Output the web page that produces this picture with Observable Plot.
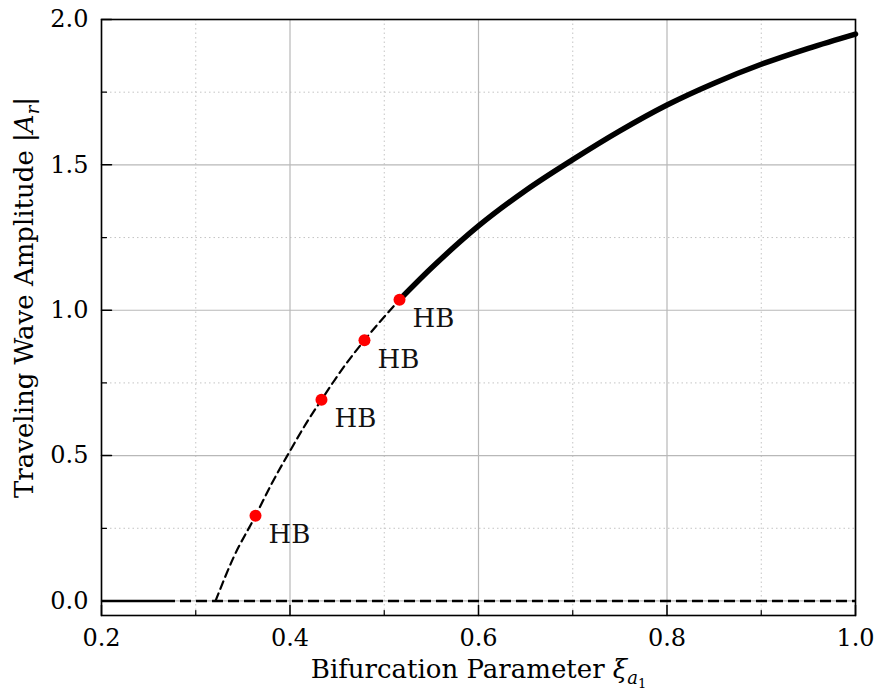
<!DOCTYPE html>
<html><head><meta charset="utf-8">
<script src="https://cdn.jsdelivr.net/npm/d3@7"></script>
<script src="https://cdn.jsdelivr.net/npm/@observablehq/plot@0.6"></script>
<style>
body{margin:0;background:#fff}
svg, svg text, svg tspan { font-family: "DejaVu Serif", serif !important; }
</style>
</head><body><div id="chart"></div>
<script>
// ---- data ----
const zeroSolidXi = [0.2, 0.2785];          // stable trivial branch
const zeroDashedXi = [0.2785, 1.0];         // unstable trivial branch
const unstableXi = [0.321, 0.340, 0.3634, 0.380, 0.400, 0.417, 0.4334, 0.456, 0.479, 0.5162];
const unstableA  = [0.000, 0.149, 0.293, 0.400, 0.516, 0.610, 0.692, 0.800, 0.897, 1.036];
const stableXi = [0.5162, 0.55, 0.60, 0.65, 0.70, 0.75, 0.80, 0.85, 0.90, 0.95, 1.00];
const stableA  = [1.036, 1.145, 1.290, 1.412, 1.518, 1.617, 1.706, 1.781, 1.846, 1.901, 1.950];
const hbXi = [0.3634, 0.4334, 0.479, 0.5162];
const hbA  = [0.293, 0.692, 0.897, 1.036];
const hbLabels = ["HB", "HB", "HB", "HB"];
const xMajorTicks = [0.2, 0.4, 0.6, 0.8, 1.0];
const xMinorTicks = [0.3, 0.5, 0.7, 0.9];
const yMajorTicks = [0.0, 0.5, 1.0, 1.5, 2.0];
const yMinorTicks = [0.25, 0.75, 1.25, 1.75];
const xLabelText = "Bifurcation Parameter ";
const yLabelText = "Traveling Wave Amplitude |";

// ---- tables built from the arrays ----
const unstable = unstableXi.map((x, i) => ({x, y: unstableA[i]}));
const stable = stableXi.map((x, i) => ({x, y: stableA[i]}));
const hb = hbXi.map((x, i) => ({x, y: hbA[i], label: hbLabels[i]}));

const tickShape = {draw(ctx, l) { ctx.moveTo(0, 0); ctx.lineTo(0, -l); }};
const TICKFONT = 24;
const LABELFONT = 26;
const SERIF = "DejaVu Serif";

const chart = Plot.plot({
  width: 874,
  height: 692,
  marginLeft: 101,
  marginRight: 19,
  marginTop: 19,
  marginBottom: 77,
  style: {fontFamily: SERIF, fontSize: TICKFONT + "px", background: "#fff", color: "#000"},
  x: {domain: [0.2, 1.0]},
  y: {domain: [-0.05, 2.0]},
  marks: [
    // grids
    Plot.gridX(xMinorTicks, {stroke: "#c4c4c4", strokeOpacity: 1, strokeWidth: 1, strokeDasharray: "1.5,3"}),
    Plot.gridY(yMinorTicks, {stroke: "#c4c4c4", strokeOpacity: 1, strokeWidth: 1, strokeDasharray: "1.5,3"}),
    Plot.gridX(xMajorTicks, {stroke: "#b8b8b8", strokeOpacity: 1, strokeWidth: 1.2}),
    Plot.gridY(yMajorTicks, {stroke: "#b8b8b8", strokeOpacity: 1, strokeWidth: 1.2}),
    // trivial branch
    Plot.ruleY([0], {x1: zeroSolidXi[0], x2: zeroSolidXi[1], stroke: "black", strokeWidth: 2.5}),
    Plot.ruleY([0], {x1: zeroDashedXi[0], x2: zeroDashedXi[1], stroke: "black", strokeWidth: 2.5, strokeDasharray: "11,5", strokeDashoffset: 11}),
    // traveling wave branch
    Plot.line(unstable, {x: "x", y: "y", curve: "monotone-x", stroke: "black", strokeWidth: 2.2, strokeDasharray: "8,5"}),
    Plot.line(stable, {x: "x", y: "y", curve: "monotone-x", stroke: "black", strokeWidth: 5.5}),
    // Hopf points
    Plot.dot(hb, {x: "x", y: "y", r: 6, fill: "#ff0000", stroke: "none"}),
    Plot.text(hb, {x: "x", y: "y", text: "label", dx: 13, dy: 19, textAnchor: "start", lineAnchor: "middle", fontSize: 26, fontFamily: SERIF, fill: "#111"}),
    // frame
    Plot.frame({stroke: "black", strokeWidth: 1.6}),
    // inward ticks
    Plot.vector(xMajorTicks, {x: d => d, frameAnchor: "bottom", length: 10, rotate: 0, anchor: "start", shape: tickShape, stroke: "black", strokeWidth: 1.5}),
    Plot.vector(xMinorTicks, {x: d => d, frameAnchor: "bottom", length: 5, rotate: 0, anchor: "start", shape: tickShape, stroke: "black", strokeWidth: 1.2}),
    Plot.vector(yMajorTicks, {y: d => d, frameAnchor: "left", length: 10, rotate: 90, anchor: "start", shape: tickShape, stroke: "black", strokeWidth: 1.5}),
    Plot.vector(yMinorTicks, {y: d => d, frameAnchor: "left", length: 5, rotate: 90, anchor: "start", shape: tickShape, stroke: "black", strokeWidth: 1.2}),
    // tick labels
    Plot.axisX(xMajorTicks, {tickSize: 0, tickPadding: 13, tickFormat: d3.format(".1f"), label: null, fontSize: TICKFONT, fontFamily: SERIF}),
    Plot.axisY(yMajorTicks, {tickSize: 0, tickPadding: 13, tickFormat: d3.format(".1f"), label: null, fontSize: TICKFONT, fontFamily: SERIF}),
    // axis titles
    Plot.text([xLabelText], {text: d => d, frameAnchor: "bottom", dy: 54, lineAnchor: "middle", textAnchor: "middle", fontSize: LABELFONT, fontFamily: SERIF}),
    Plot.text([yLabelText], {text: d => d, frameAnchor: "left", dx: -77, dy: -20, rotate: -90, lineAnchor: "middle", textAnchor: "middle", fontSize: LABELFONT, fontFamily: SERIF})
  ]
});

document.getElementById("chart").appendChild(chart);

// math parts of the axis titles
d3.select(chart).selectAll("text").each(function () {
  const t = d3.select(this);
  const s = this.textContent;
  if (s === xLabelText) {
    t.append("tspan").attr("font-style", "italic").text("ξ");
    t.append("tspan").attr("font-style", "italic").attr("font-size", 18).attr("dy", 6).text("a");
    t.append("tspan").attr("font-size", 13).attr("dy", 4).text("1");
  } else if (s === yLabelText) {
    t.append("tspan").attr("font-style", "italic").text("A");
    t.append("tspan").attr("font-style", "italic").attr("font-size", 18).attr("dy", 6).text("r");
    t.append("tspan").attr("dy", -6).text("|");
  }
});
</script>
</body></html>
